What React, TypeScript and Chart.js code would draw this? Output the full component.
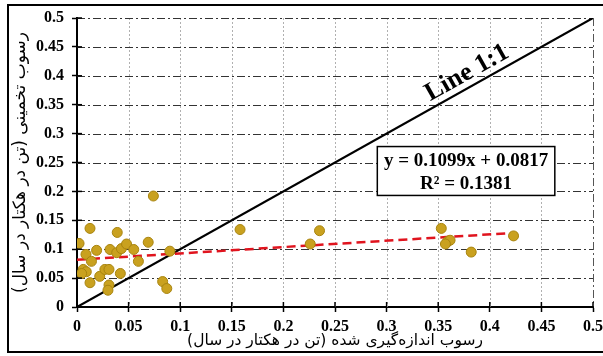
import React, { useEffect, useRef } from 'react';
import { Chart, registerables } from 'chart.js';

Chart.register(...registerables);

// ---- data ----
const measuredX = [
  0.002, 0.0126, 0.039, 0.074, 0.0087, 0.019, 0.032, 0.0385, 0.043, 0.048,
  0.055, 0.0595, 0.069, 0.014, 0.006, 0.009, 0.0045, 0.0126, 0.022, 0.027,
  0.031, 0.042, 0.031, 0.030, 0.083, 0.087, 0.090, 0.158, 0.235, 0.226,
  0.353, 0.359, 0.3615, 0.357, 0.382, 0.423,
];
const estimatedY = [
  0.110, 0.136, 0.129, 0.192, 0.091, 0.098, 0.0995, 0.094, 0.101, 0.109,
  0.0995, 0.079, 0.112, 0.079, 0.065, 0.061, 0.058, 0.042, 0.053, 0.065,
  0.065, 0.058, 0.038, 0.029, 0.044, 0.032, 0.0966, 0.134, 0.132, 0.109,
  0.136, 0.113, 0.1155, 0.109, 0.095, 0.123,
];
const fitSlope = 0.1099;
const fitIntercept = 0.0817;
const fitXRange = [0, 0.42];
const oneToOneRange = [0, 0.5];
const axisTicks = [0, 0.05, 0.1, 0.15, 0.2, 0.25, 0.3, 0.35, 0.4, 0.45, 0.5];
const equationLines = ['y = 0.1099x + 0.0817', 'R² = 0.1381'];
const oneToOneLabel = 'Line 1:1';
const xTitle = 'رسوب اندازه‌گیری شده (تن در هکتار در سال)';
const yTitle = 'رسوب تخمینی (تن در هکتار در سال)';

// label/box anchor positions (in data units)
const labelAnchor = { x: 0.378, y: 0.405 };
const eqBox = { x0: 0.291, x1: 0.463, y0: 0.2776, y1: 0.193 };

const serifBold = (size: number) => ({ family: 'Liberation Serif', size, weight: 'bold' as const });

const decorPlugin = {
  id: 'decor',
  beforeDatasetsDraw(chart: any) {
    const { ctx, chartArea } = chart;
    const x = chart.scales.x;
    const y = chart.scales.y;
    ctx.save();
    ctx.lineWidth = 1;
    // vertical grid lines
    axisTicks.forEach((v) => {
      if (v === 0) return;
      const px = Math.round(x.getPixelForValue(v)) + 0.5;
      const last = v === axisTicks[axisTicks.length - 1];
      ctx.strokeStyle = last ? '#555' : '#b0b0b0';
      ctx.setLineDash(last ? [8, 3, 2, 3] : [2, 2]);
      ctx.beginPath();
      ctx.moveTo(px, chartArea.top);
      ctx.lineTo(px, chartArea.bottom);
      ctx.stroke();
    });
    // horizontal grid lines
    ctx.strokeStyle = '#333';
    ctx.setLineDash([8, 3, 2, 3]);
    axisTicks.forEach((v) => {
      if (v === 0) return;
      const py = Math.round(y.getPixelForValue(v)) + 0.5;
      ctx.beginPath();
      ctx.moveTo(chartArea.left, py);
      ctx.lineTo(chartArea.right, py);
      ctx.stroke();
    });
    ctx.restore();
  },
  afterDatasetsDraw(chart: any) {
    const { ctx, chartArea } = chart;
    const x = chart.scales.x;
    const y = chart.scales.y;
    ctx.save();
    // inner tick marks
    ctx.strokeStyle = '#000';
    ctx.lineWidth = 1.5;
    ctx.setLineDash([]);
    axisTicks.forEach((v) => {
      const px = x.getPixelForValue(v);
      ctx.beginPath();
      ctx.moveTo(px, chartArea.bottom);
      ctx.lineTo(px, chartArea.bottom - 5);
      ctx.stroke();
      const py = y.getPixelForValue(v);
      ctx.beginPath();
      ctx.moveTo(chartArea.left, py);
      ctx.lineTo(chartArea.left + 5, py);
      ctx.stroke();
    });

    // Line 1:1 label
    const ang = Math.atan2(
      y.getPixelForValue(oneToOneRange[1]) - y.getPixelForValue(oneToOneRange[0]),
      x.getPixelForValue(oneToOneRange[1]) - x.getPixelForValue(oneToOneRange[0])
    );
    ctx.save();
    ctx.translate(x.getPixelForValue(labelAnchor.x), y.getPixelForValue(labelAnchor.y));
    ctx.rotate(ang);
    ctx.font = 'bold 26px "Liberation Serif"';
    ctx.fillStyle = '#000';
    ctx.textAlign = 'center';
    ctx.textBaseline = 'middle';
    ctx.fillText(oneToOneLabel, 0, 0);
    ctx.restore();

    // equation box
    const bx0 = x.getPixelForValue(eqBox.x0);
    const bx1 = x.getPixelForValue(eqBox.x1);
    const by0 = y.getPixelForValue(eqBox.y0);
    const by1 = y.getPixelForValue(eqBox.y1);
    ctx.fillStyle = '#fff';
    ctx.fillRect(bx0, by0, bx1 - bx0, by1 - by0);
    ctx.strokeStyle = '#000';
    ctx.lineWidth = 1.5;
    ctx.strokeRect(bx0, by0, bx1 - bx0, by1 - by0);
    ctx.fillStyle = '#000';
    ctx.font = 'bold 19px "Liberation Serif"';
    ctx.textAlign = 'center';
    ctx.textBaseline = 'middle';
    const cx = (bx0 + bx1) / 2;
    ctx.fillText(equationLines[0], cx, by0 + 15);
    ctx.fillText(equationLines[1], cx, by0 + 38);
    ctx.restore();
  },
  afterDraw(chart: any) {
    const { ctx } = chart;
    ctx.save();
    ctx.strokeStyle = '#000';
    ctx.lineWidth = 2;
    ctx.setLineDash([]);
    ctx.strokeRect(8, 5, 700, 347);
    ctx.restore();
  },
};

export default function App() {
  const ref = useRef<HTMLCanvasElement | null>(null);
  useEffect(() => {
    if (!ref.current) return;
    const points = measuredX.map((v, i) => ({ x: v, y: estimatedY[i] }));
    const fitLine = fitXRange.map((v) => ({ x: v, y: fitSlope * v + fitIntercept }));
    const oneLine = oneToOneRange.map((v) => ({ x: v, y: v }));
    const chart = new Chart(ref.current, {
      type: 'scatter',
      data: {
        datasets: [
          {
            label: 'data',
            data: points,
            backgroundColor: '#C9A11F',
            borderColor: '#A8840F',
            borderWidth: 1,
            pointRadius: 5,
          },
          {
            label: 'fit',
            type: 'line',
            data: fitLine,
            borderColor: '#E0141E',
            borderWidth: 2.5,
            borderDash: [9, 5],
            pointRadius: 0,
            fill: false,
          } as any,
          {
            label: '1:1',
            type: 'line',
            data: oneLine,
            borderColor: '#000',
            borderWidth: 2.2,
            pointRadius: 0,
            fill: false,
          } as any,
        ],
      },
      options: {
        animation: false,
        responsive: false,
        layout: { padding: { left: 0, right: 10, top: 18, bottom: 0 } },
        plugins: { legend: { display: false }, tooltip: { enabled: false } },
        scales: {
          x: {
            type: 'linear',
            min: 0,
            max: 0.5,
            afterBuildTicks: (s: any) => {
              s.ticks = axisTicks.map((v) => ({ value: v }));
            },
            afterFit: (s: any) => {
              s.height = 49;
              s.paddingLeft = 0;
              s.paddingRight = 0;
            },
            ticks: {
              color: '#000',
              font: serifBold(16),
              padding: 5,
              callback: (v: any) => String(v),
              maxRotation: 0,
            },
            grid: {
              drawOnChartArea: false,
              tickLength: 5,
              tickColor: '#000',
              tickWidth: 1.5,
            },
            border: { display: true, color: '#000', width: 2 },
            title: {
              display: true,
              text: xTitle,
              color: '#000',
              font: { family: 'DejaVu Sans', size: 15.5 },
              padding: { top: 0, bottom: 6 },
            },
          },
          y: {
            type: 'linear',
            min: 0,
            max: 0.5,
            afterBuildTicks: (s: any) => {
              s.ticks = axisTicks.map((v) => ({ value: v }));
            },
            afterFit: (s: any) => {
              s.width = 77;
              s.paddingTop = 0;
              s.paddingBottom = 0;
            },
            ticks: {
              color: '#000',
              font: serifBold(16),
              padding: 8,
              callback: (v: any) => String(v),
            },
            grid: {
              drawOnChartArea: false,
              tickLength: 5,
              tickColor: '#000',
              tickWidth: 1.5,
            },
            border: { display: true, color: '#000', width: 2 },
            title: {
              display: true,
              text: yTitle,
              color: '#000',
              font: { family: 'DejaVu Sans', size: 17 },
              padding: { top: 10, bottom: 0 },
            },
          },
        },
      },
      plugins: [decorPlugin],
    });
    return () => chart.destroy();
  }, []);
  return (
    <div style={{ position: 'fixed', left: 0, top: 0, width: 603, height: 356, background: '#fff' }}>
      <canvas ref={ref} width={603} height={356} style={{ display: 'block' }} />
    </div>
  );
}
